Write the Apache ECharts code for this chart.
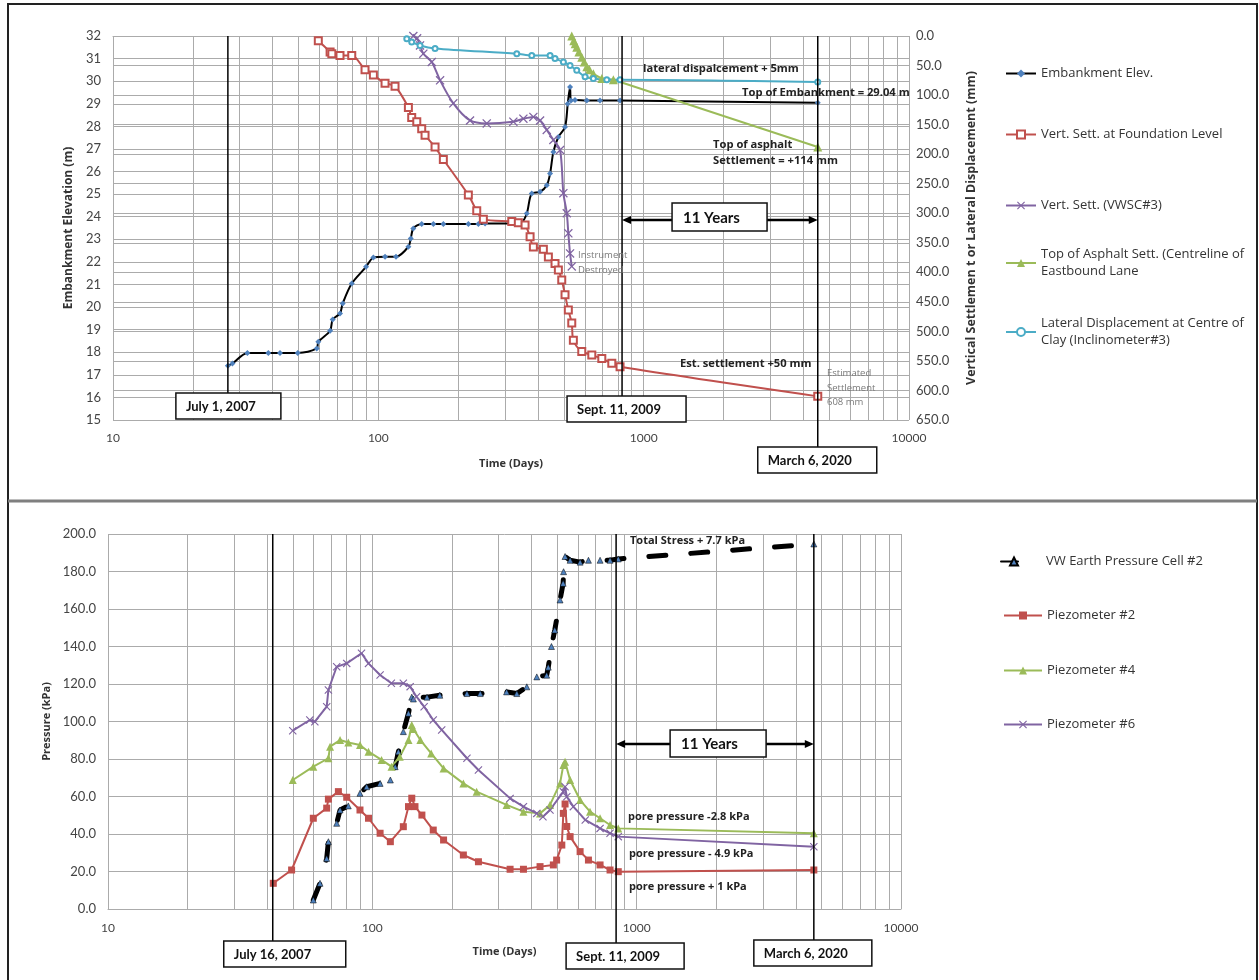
<!DOCTYPE html>
<html lang="en">
<head>
<meta charset="UTF-8">
<title>Embankment monitoring</title>
<script src="https://cdn.jsdelivr.net/npm/echarts/dist/echarts.min.js"></script>
<style>
  html, body { margin: 0; padding: 0; background: #fff; }
  #chart { width: 1259px; height: 980px; }
</style>
</head>
<body>
<div id="chart"></div>
<script>
  // ---- top panel: embankment elevation / settlement (days since start) ----
  const embDays = [27.1, 28.2, 32.1, 38.5, 42.6, 49.7, 58.6, 59.4, 65.8, 67.3, 71.7, 73.4, 79.4, 89.9, 95.8, 106, 116.6, 129.8, 132.5, 135.5, 145.7, 161.2, 175.8, 218.4, 238.2, 252.5, 327.6, 347.2, 362.6, 378.7, 407, 431.3, 443.9, 456.8, 477, 505.4, 517.4, 527.9, 532.4, 551.2, 610.4, 684.7, 814.7, 4530];
  const embElev = [17.4, 17.5, 17.97, 17.97, 17.97, 17.97, 18.17, 18.46, 18.95, 19.45, 19.72, 20.16, 21.04, 21.78, 22.19, 22.23, 22.23, 22.67, 23.03, 23.48, 23.68, 23.68, 23.68, 23.68, 23.68, 23.7, 23.7, 23.75, 24.14, 25.03, 25.1, 25.39, 25.91, 26.87, 27.53, 27.97, 29.0, 29.74, 29.15, 29.17, 29.15, 29.15, 29.14, 29.04];

  const foundDays = [59.4, 65.8, 66.8, 71.7, 79.4, 89.1, 95.8, 106, 115.6, 129.8, 133.6, 139.6, 145.7, 150, 163.6, 175.8, 218.4, 234.9, 248.8, 318.4, 337, 357.3, 373.2, 384, 418.8, 437.4, 463.4, 477, 491.2, 505.4, 520.1, 535.8, 543.3, 584.4, 637.6, 695.4, 758.4, 814.7, 4530];
  const foundSett = [8, 27, 30, 33, 33, 57, 66, 80, 85, 121, 138, 145, 157, 168, 188, 209, 269, 296, 310, 314, 316, 320, 340, 357, 361, 374, 385, 396, 413, 438, 464, 486, 515, 534, 540, 546, 554, 560, 610];

  const vwscDays = [135.5, 140, 143.6, 147.8, 159, 170.9, 191.7, 221.6, 256.2, 322.8, 352.1, 384, 407, 431.3, 456.8, 484.1, 498.2, 513.1, 520.1, 527.9, 535.8];
  const vwscSett = [0, 4, 16, 30, 44, 75, 114, 143, 148, 145, 140, 137, 143, 159, 176, 193, 266, 300, 334, 368, 390];

  const asphDays = [535.8, 545, 552, 559.5, 570, 584.4, 597, 610.4, 625, 646.3, 695.4, 768.9, 4530];
  const asphSett = [0, 8, 13, 19, 27, 36, 44, 52, 57, 64, 72, 74, 188];

  const latDays = [128, 133.6, 143.6, 163.6, 332.5, 378.7, 443.9, 463.4, 498.2, 527.9, 559.5, 601.4, 646.3, 726, 814.7, 4530];
  const latDisp = [4.5, 10, 16, 21, 30, 33, 33, 38, 44, 50, 58, 69, 72, 74, 74, 78];

  // ---- bottom panel: pressures ----
  const vwDays = [59.8, 63.4, 67.2, 68.2, 73.3, 75.5, 81.1, 89.8, 95.2, 107, 117, 122, 125.5, 131, 137, 141, 143, 161, 180, 228, 256, 322, 352, 384, 419, 456.6, 463, 476, 490, 513, 527, 529, 536, 560, 611, 657, 727, 793, 852, 4680];
  const vwKpa = [4.8, 13.7, 27, 35.9, 45.7, 52.8, 55, 61.7, 65.2, 67, 68.8, 75.9, 83.9, 94.6, 104.4, 113, 112, 113, 114, 114.9, 114.9, 115.8, 114.9, 118.5, 123.8, 124.7, 129, 140, 148.8, 164.8, 173.7, 179.9, 188, 186, 185, 186, 186, 186, 186.7, 194.7];

  const p2Days = [42.2, 49.5, 59.8, 67.2, 68.2, 74.4, 80, 89.8, 96.7, 107, 117, 131, 137, 141, 145, 154, 170, 186, 221, 252, 332, 373, 431, 484, 498, 521, 528, 536, 544, 560, 611, 657, 727, 793, 852, 4680];
  const p2Kpa = [13.7, 20.8, 48.4, 53.8, 58.6, 62.6, 59.6, 52.8, 48.4, 40.4, 35.9, 43.9, 54.6, 59.1, 54.6, 50.1, 42.1, 36.8, 28.8, 25.2, 21.2, 21.2, 22.6, 23.5, 26.1, 34.1, 51, 56, 44, 38.6, 30.6, 26.1, 23.5, 20.8, 19.9, 20.8];

  const p4Days = [50, 59.8, 68.2, 69.2, 75.5, 81.1, 89.8, 96.7, 108.4, 118.2, 127, 137, 141, 143, 152, 167, 186, 221, 248, 322, 373, 431, 470, 513, 528, 536, 560, 611, 666, 727, 793, 852, 4680];
  const p4Kpa = [68.8, 75.9, 80.4, 86.6, 90.1, 88.8, 87.5, 83.9, 79.5, 75.9, 81.2, 90.1, 98.1, 96, 90.1, 83, 75, 67, 62.6, 55.5, 51.9, 51, 55.5, 67, 76.8, 78.6, 68.8, 58.1, 51.9, 48.4, 44.8, 43, 40.4];

  const p6Days = [50, 58, 60.6, 67.2, 68.2, 73.3, 80, 91, 96.7, 107, 118, 131, 139, 147, 157, 170, 183, 228, 252, 332, 373, 419, 442, 470, 528, 536, 544, 576, 639, 727, 793, 852, 4680];
  const p6Kpa = [95.1, 100.8, 99.9, 107.9, 116.8, 129.2, 131, 136.4, 131, 124.8, 120.4, 120.4, 118.6, 113.2, 107.9, 100.8, 95.5, 80.4, 74.1, 59, 54.6, 51, 49.2, 52.8, 62.6, 65.2, 59.9, 54.6, 47.5, 43, 40.4, 38.6, 33.2];

  // log-axis minor grid positions
  const minorDays = [20, 30, 40, 50, 60, 70, 80, 90, 200, 300, 400, 500, 600, 700, 800, 900, 2000, 3000, 4000, 5000, 6000, 7000, 8000, 9000];

  // date markers
  const topDateLabels = ['July 1, 2007', 'Sept. 11, 2009', 'March 6, 2020'];
  const topDateDays = [27.1, 829, 4530];
  const botDateLabels = ['July 16, 2007', 'Sept. 11, 2009', 'March 6, 2020'];
  const botDateDays = [42, 836, 4680];

  const topNames = ['Embankment Elev.', 'Vert. Sett. at Foundation Level', 'Vert. Sett. (VWSC#3)', 'Top of Asphalt Sett. (Centreline of Eastbound Lane', 'Lateral Displacement at Centre of Clay (Inclinometer#3)'];
  const topLegendText = ['Embankment Elev.', 'Vert. Sett. at Foundation Level', 'Vert. Sett. (VWSC#3)', 'Top of Asphalt Sett. (Centreline of\nEastbound Lane', 'Lateral Displacement at Centre of\nClay (Inclinometer#3)'];
  const botNames = ['VW Earth Pressure Cell #2', 'Piezometer #2', 'Piezometer #4', 'Piezometer #6'];

  const FONT = 'Lato, "Open Sans", sans-serif';
  const SANS = '"Open Sans", Lato, sans-serif';
  const GRID = '#ababab';
  const XSYM = 'path://M0,1L1,0L5,4L9,0L10,1L6,5L10,9L9,10L5,6L1,10L0,9L4,5Z';
  const zip = (a, b) => a.map((d, i) => [d, b[i]]);

  function xAxisFor(grid, labelMargin, nameGap) {
    return {
      type: 'log', logBase: 10, min: 10, max: 10000, gridIndex: grid,
      name: 'Time (Days)', nameLocation: 'middle', nameGap: nameGap,
      nameTextStyle: { fontFamily: SANS, fontWeight: 'bold', fontSize: 11, color: '#333' },
      axisLine: { show: true, lineStyle: { color: GRID } },
      axisTick: { show: false },
      axisLabel: { fontFamily: FONT, fontSize: 12, color: '#444', margin: labelMargin, formatter: v => String(v) },
      splitLine: { show: true, lineStyle: { color: GRID, width: 1 } }
    };
  }

  function minorGrid(xIdx, yIdx) {
    return {
      type: 'line', xAxisIndex: xIdx, yAxisIndex: yIdx, data: [], z: 1, silent: true,
      markLine: {
        z: 1, silent: true, symbol: 'none', animation: false,
        label: { show: false },
        lineStyle: { color: GRID, width: 1, type: 'solid' },
        data: minorDays.map(d => ({ xAxis: d }))
      }
    };
  }

  const option = {
    animation: false,
    backgroundColor: '#fff',
    textStyle: { fontFamily: FONT },
    grid: [
      { left: 113, top: 36, width: 796, height: 384 },
      { left: 108, top: 534, width: 793, height: 375 }
    ],
    xAxis: [xAxisFor(0, 12, 38), xAxisFor(1, 13, 37)],
    yAxis: [
      {
        type: 'value', gridIndex: 0, min: 15, max: 32, interval: 1,
        name: 'Embankment Elevation (m)', nameLocation: 'middle', nameGap: 34, nameRotate: 90,
        nameTextStyle: { fontFamily: SANS, fontWeight: 'bold', fontSize: 12, color: '#333' },
        axisLine: { show: false }, axisTick: { show: false },
        axisLabel: { fontFamily: FONT, fontSize: 13, color: '#444', margin: 12 },
        splitLine: { show: true, lineStyle: { color: GRID, width: 1 } }
      },
      {
        type: 'value', gridIndex: 0, position: 'right', min: 0, max: 650, interval: 50, inverse: true,
        name: 'Vertical Settlemen t or Lateral Displacement (mm)', nameLocation: 'middle', nameGap: 56, nameRotate: 90,
        nameTextStyle: { fontFamily: SANS, fontWeight: 'bold', fontSize: 12.5, color: '#333' },
        axisLine: { show: false }, axisTick: { show: false },
        axisLabel: { fontFamily: FONT, fontSize: 13, color: '#444', margin: 7, formatter: v => v.toFixed(1) },
        splitLine: { show: true, lineStyle: { color: GRID, width: 1 } }
      },
      {
        type: 'value', gridIndex: 1, min: 0, max: 200, interval: 20,
        name: 'Pressure (kPa)', nameLocation: 'middle', nameGap: 54, nameRotate: 90,
        nameTextStyle: { fontFamily: SANS, fontWeight: 'bold', fontSize: 11, color: '#333' },
        axisLine: { show: false }, axisTick: { show: false },
        axisLabel: { fontFamily: FONT, fontSize: 13, color: '#444', margin: 12, formatter: v => v.toFixed(1) },
        splitLine: { show: true, lineStyle: { color: GRID, width: 1 } }
      }
    ],
    legend: [],
    series: [
      minorGrid(0, 0),
      minorGrid(1, 2),
      {
        name: topNames[0], type: 'line', xAxisIndex: 0, yAxisIndex: 0, smooth: 0.3,
        data: zip(embDays, embElev),
        lineStyle: { color: '#000', width: 2 },
        symbol: 'diamond', symbolSize: 6, itemStyle: { color: '#4f81bd' }
      },
      {
        name: topNames[1], type: 'line', xAxisIndex: 0, yAxisIndex: 1, smooth: 0.3,
        data: zip(foundDays, foundSett),
        lineStyle: { color: '#c0504d', width: 2 },
        symbol: 'emptyRect', symbolSize: 7, itemStyle: { color: '#c0504d', borderWidth: 1 }
      },
      {
        name: topNames[2], type: 'line', xAxisIndex: 0, yAxisIndex: 1, smooth: 0.3,
        data: zip(vwscDays, vwscSett),
        lineStyle: { color: '#8064a2', width: 2 },
        symbol: XSYM, symbolSize: 9, itemStyle: { color: '#8064a2' }
      },
      {
        name: topNames[3], type: 'line', xAxisIndex: 0, yAxisIndex: 1,
        data: zip(asphDays, asphSett),
        lineStyle: { color: '#9bbb59', width: 2 },
        symbol: 'triangle', symbolSize: 9, itemStyle: { color: '#9bbb59' }
      },
      {
        name: topNames[4], type: 'line', xAxisIndex: 0, yAxisIndex: 1, smooth: 0.3,
        data: zip(latDays, latDisp),
        lineStyle: { color: '#4bacc6', width: 2 },
        symbol: 'emptyCircle', symbolSize: 5, itemStyle: { color: '#4bacc6', borderWidth: 1 }
      },
      {
        name: botNames[0], type: 'line', xAxisIndex: 1, yAxisIndex: 2,
        data: zip(vwDays, vwKpa),
        lineStyle: { color: '#000', width: 5, type: [17, 25], cap: 'round' },
        symbol: 'triangle', symbolSize: 6, itemStyle: { color: '#4f81bd', borderColor: '#000', borderWidth: 0.5 }
      },
      {
        name: botNames[1], type: 'line', xAxisIndex: 1, yAxisIndex: 2,
        data: zip(p2Days, p2Kpa),
        lineStyle: { color: '#c0504d', width: 2 },
        symbol: 'rect', symbolSize: 7, itemStyle: { color: '#c0504d' }
      },
      {
        name: botNames[2], type: 'line', xAxisIndex: 1, yAxisIndex: 2,
        data: zip(p4Days, p4Kpa),
        lineStyle: { color: '#9bbb59', width: 2 },
        symbol: 'triangle', symbolSize: 8, itemStyle: { color: '#9bbb59' }
      },
      {
        name: botNames[3], type: 'line', xAxisIndex: 1, yAxisIndex: 2,
        data: zip(p6Days, p6Kpa),
        lineStyle: { color: '#8064a2', width: 2 },
        symbol: XSYM, symbolSize: 8, itemStyle: { color: '#8064a2' }
      }
    ]
  };

  // legends: one component per entry so the spacing follows the original
  const topLegendY = [73, 134, 205, 254, 323];
  topNames.forEach((n, i) => {
    option.legend.push({
      data: [n], left: 1005, top: topLegendY[i] - 8, padding: 0, orient: 'vertical',
      itemWidth: 30, itemHeight: 10, selectedMode: false,
      formatter: () => topLegendText[i],
      textStyle: { fontFamily: SANS, fontSize: 13, color: '#333', lineHeight: 17 }
    });
  });
  const botLegendY = [561, 615, 670, 724];
  botNames.forEach((n, i) => {
    option.legend.push({
      data: [n], left: i === 0 ? 1000 : 1003, top: botLegendY[i] - 8, padding: 0,
      itemWidth: i === 0 ? 26 : 38, itemHeight: 10, selectedMode: false,
      textStyle: { fontFamily: SANS, fontSize: 13, color: '#333', lineHeight: 17, padding: [0, 0, 0, i === 0 ? 14 : 0] }
    });
  });

  const chart = echarts.init(document.getElementById('chart'));
  chart.setOption(option);

  // ---- annotations, placed through the axes' own scales ----
  const xpx = (g, d) => chart.convertToPixel({ xAxisIndex: g }, d);
  const ypx = (a, v) => chart.convertToPixel({ yAxisIndex: a }, v);

  function txt(x, y, text, font, fill) {
    return {
      type: 'text', x: x, y: y, silent: true, z: 20,
      style: { text: text, font: font, fill: fill || '#222', align: 'left', verticalAlign: 'middle', textAlign: 'left', textVerticalAlign: 'middle' }
    };
  }
  function vline(x, y1, y2) {
    return { type: 'line', silent: true, z: 15, shape: { x1: x, y1: y1, x2: x, y2: y2 }, style: { stroke: '#000', lineWidth: 1.5 } };
  }
  function box(x, y, w, h, text, font, pad) {
    return [
      { type: 'rect', silent: true, z: 18, shape: { x: x, y: y, width: w, height: h }, style: { fill: '#fff', stroke: '#111', lineWidth: 1.5 } },
      txt(x + pad, y + h / 2 + 1, text, font, '#111')
    ];
  }
  function arrow(x1, x2, y) {
    return [
      { type: 'line', silent: true, z: 16, shape: { x1: x1 + 6, y1: y, x2: x2 - 6, y2: y }, style: { stroke: '#000', lineWidth: 2.5 } },
      { type: 'polygon', silent: true, z: 16, shape: { points: [[x1, y], [x1 + 9, y - 4], [x1 + 9, y + 4]] }, style: { fill: '#000' } },
      { type: 'polygon', silent: true, z: 16, shape: { points: [[x2, y], [x2 - 9, y - 4], [x2 - 9, y + 4]] }, style: { fill: '#000' } }
    ];
  }

  const g = [];
  // frame and panel divider
  g.push({ type: 'rect', silent: true, z: 30, shape: { x: 8, y: 4, width: 1249, height: 990 }, style: { fill: 'none', stroke: '#222', lineWidth: 2 } });
  g.push({ type: 'line', silent: true, z: 30, shape: { x1: 8, y1: 501, x2: 1257, y2: 501 }, style: { stroke: '#7f7f7f', lineWidth: 3 } });

  const topTop = ypx(0, 32);
  const botTop = ypx(2, 200);
  const topBoxes = [{ top: 393, w: 105, dx: -52 }, { top: 396, w: 119, dx: -55 }, { top: 447, w: 119, dx: -60 }];
  const botBoxes = [{ top: 941, w: 122, dx: -49 }, { top: 943, w: 118, dx: -50 }, { top: 940, w: 118, dx: -60 }];
  const dateFont = 'bold 13px ' + FONT;

  topDateDays.forEach((d, i) => {
    const x = xpx(0, d), b = topBoxes[i];
    g.push(vline(x, topTop, b.top));
    g.push(...box(x + b.dx, b.top, b.w, 26, topDateLabels[i], dateFont, 10));
  });
  botDateDays.forEach((d, i) => {
    const x = xpx(1, d), b = botBoxes[i];
    g.push(vline(x, botTop, b.top));
    g.push(...box(x + b.dx, b.top, b.w, 26, botDateLabels[i], dateFont, 10));
  });

  // "11 Years" spans
  const ts = xpx(0, topDateDays[1]), te = xpx(0, topDateDays[2]);
  g.push(...arrow(ts, te, 220));
  g.push(...box(ts + 50, 203, 95, 28, '11 Years', 'bold 15px ' + FONT, 11));
  const bs = xpx(1, botDateDays[1]), be = xpx(1, botDateDays[2]);
  g.push(...arrow(bs, be, 744));
  g.push(...box(bs + 54, 730, 96, 27, '11 Years', 'bold 15px ' + FONT, 11));

  const noteFont = 'bold 11.2px ' + SANS;
  const smallFont = '9.5px ' + SANS;
  g.push(txt(643, 69, 'lateral dispalcement + 5mm', noteFont));
  g.push(txt(742, 93, 'Top of Embankment = 29.04 m', noteFont));
  g.push(txt(713, 145, 'Top of asphalt', noteFont));
  g.push(txt(713, 161, 'Settlement = +114 mm', noteFont));
  g.push(txt(578, 255, 'Instrument', smallFont, '#7a7a7a'));
  g.push(txt(578, 270, 'Destroyed', smallFont, '#7a7a7a'));
  g.push(txt(680, 364, 'Est. settlement +50 mm', noteFont));
  g.push(txt(827, 373, 'Estimated', smallFont, '#7a7a7a'));
  g.push(txt(827, 388, 'Settlement', smallFont, '#7a7a7a'));
  g.push(txt(827, 402, '608 mm', smallFont, '#7a7a7a'));

  const noteFont2 = 'bold 11px ' + SANS;
  g.push(txt(630, 541, 'Total Stress + 7.7 kPa', noteFont2));
  g.push(txt(628, 817, 'pore pressure -2.8 kPa', noteFont2));
  g.push(txt(629, 854, 'pore pressure - 4.9 kPa', noteFont2));
  g.push(txt(629, 887, 'pore pressure + 1 kPa', noteFont2));

  chart.setOption({ graphic: { elements: g } });
</script>
</body>
</html>
